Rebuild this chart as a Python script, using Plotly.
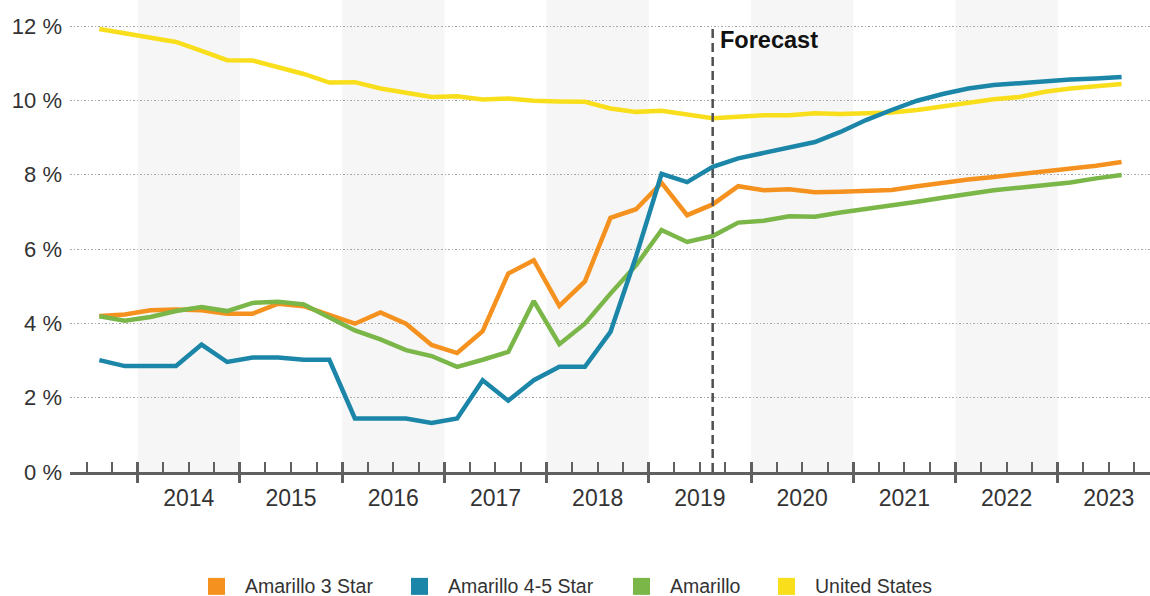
import plotly.graph_objects as go

# ---------------- data ----------------
START_YEAR, START_Q, N_QUARTERS = 2013, 3, 41
quarters = []
_y, _q = START_YEAR, START_Q
for _ in range(N_QUARTERS):
    quarters.append(f"{_y} Q{_q}")
    _q += 1
    if _q > 4:
        _q, _y = 1, _y + 1

amarillo_3_star = [4.20, 4.24, 4.35, 4.37, 4.35, 4.26, 4.26, 4.53, 4.46, 4.22,
                   3.99, 4.29, 3.99, 3.42, 3.20, 3.79, 5.34, 5.70, 4.47, 5.13,
                   6.84, 7.07, 7.78, 6.91, 7.20, 7.69, 7.58, 7.61, 7.53, 7.54,
                   7.55, 7.59, 7.69, 7.79, 7.87, 7.94, 8.01, 8.08, 8.15, 8.24, 8.34]
amarillo_45_star = [3.01, 2.85, 2.85, 2.85, 3.43, 2.96, 3.08, 3.08, 3.02, 3.02,
                    1.44, 1.44, 1.44, 1.32, 1.44, 2.47, 1.92, 2.47, 2.83, 2.83,
                    3.77, 5.80, 8.02, 7.80, 8.21, 8.44, 8.59, 8.75, 8.88, 9.15,
                    9.47, 9.74, 9.99, 10.17, 10.32, 10.41, 10.47, 10.52, 10.56, 10.59, 10.63]
amarillo = [4.19, 4.07, 4.17, 4.33, 4.44, 4.33, 4.55, 4.58, 4.51, 4.17,
            3.81, 3.57, 3.28, 3.12, 2.83, 3.02, 3.23, 4.60, 3.44, 3.99,
            4.80, 5.56, 6.51, 6.19, 6.35, 6.71, 6.76, 6.88, 6.87, 6.98,
            7.07, 7.16, 7.27, 7.38, 7.49, 7.58, 7.65, 7.71, 7.79, 7.90, 7.99]
united_states = [11.92, 11.80, 11.69, 11.57, 11.33, 11.08, 11.07, 10.90, 10.71, 10.48,
                 10.49, 10.32, 10.20, 10.09, 10.11, 10.02, 10.05, 9.99, 9.97, 9.96,
                 9.78, 9.69, 9.72, 9.63, 9.52, 9.56, 9.60, 9.60, 9.65, 9.63,
                 9.65, 9.67, 9.74, 9.84, 9.96, 10.03, 10.09, 10.23, 10.32, 10.38, 10.44]

series_names = ["Amarillo 3 Star", "Amarillo 4-5 Star", "Amarillo", "United States"]
series_colors = ["#F5921F", "#1B86A8", "#7AB648", "#F9DE1C"]

year_labels = [2014, 2015, 2016, 2017, 2018, 2019, 2020, 2021, 2022, 2023]
shaded_years = [2014, 2016, 2018, 2020, 2022]
y_ticks = [0, 2, 4, 6, 8, 10, 12]
forecast_start = "2019 Q3"
forecast_label = "Forecast"

# ---------------- layout constants ----------------
W, H = 1150, 596
M_L, M_R, M_T, M_B = 70, 0, 0, 124.3
PLOT_W = W - M_L - M_R
PLOT_H = H - M_T - M_B

def q_to_x(label):
    yr, q = label.split(" Q")
    return int(yr) + (int(q) - 0.5) / 4

def px_to_paper(px, py):
    return (px - M_L) / PLOT_W, (H - M_B - py) / PLOT_H

xs = [q_to_x(q) for q in quarters]
X_RANGE = [2013.338, 2023.903]
Y_RANGE = [0, 12.7]

FONT = "Liberation Sans, Arial, sans-serif"
AXIS_COLOR = "#606060"
TEXT_COLOR = "#333333"

fig = go.Figure()

values = {"Amarillo 3 Star": amarillo_3_star, "Amarillo 4-5 Star": amarillo_45_star,
          "Amarillo": amarillo, "United States": united_states}
col = dict(zip(series_names, series_colors))

# draw order for lines
for name in ["United States", "Amarillo 3 Star", "Amarillo", "Amarillo 4-5 Star"]:
    fig.add_trace(go.Scatter(x=xs, y=values[name], mode="lines", name=name,
                             line=dict(color=col[name], width=4.5),
                             showlegend=False, hoverinfo="x+y"))

# dummy traces so overlay axes render
for ax in ["x2", "x3", "x4"]:
    fig.add_trace(go.Scatter(x=[None], y=[None], xaxis=ax, yaxis="y",
                             showlegend=False, hoverinfo="skip"))

# year bands
shapes = []
for yr in shaded_years:
    shapes.append(dict(type="rect", xref="x", yref="paper", x0=yr, x1=yr + 1,
                       y0=0, y1=1, fillcolor="#F6F6F6", line=dict(width=0),
                       layer="below"))
fx = q_to_x(forecast_start)
shapes.append(dict(type="line", xref="x", yref="y", x0=fx, x1=fx, y0=0, y1=12,
                   line=dict(color="#505050", width=2.5, dash="9px,5px"), layer="above"))

annotations = [dict(x=fx, y=11.62, xref="x", yref="y", text=f"<b>{forecast_label}</b>",
                    showarrow=False, xanchor="left", yanchor="middle", xshift=5,
                    font=dict(size=23.5, color="#111111", family=FONT))]

# legend (key squares + labels) laid out below the chart
legend_square_left = [208, 411, 633, 778]
LEG_CY, SQ = 586, 17
for name, sx in zip(series_names, legend_square_left):
    x0, y0 = px_to_paper(sx, LEG_CY + SQ / 2)
    x1, y1 = px_to_paper(sx + SQ, LEG_CY - SQ / 2)
    shapes.append(dict(type="rect", xref="paper", yref="paper", x0=x0, x1=x1,
                       y0=y0, y1=y1, fillcolor=col[name], line=dict(width=0)))
    tx, ty = px_to_paper(sx + 35, LEG_CY)
    annotations.append(dict(x=tx, y=ty, xref="paper", yref="paper", text=name,
                            showarrow=False, xanchor="left", yanchor="middle",
                            font=dict(size=19.5, color=TEXT_COLOR, family=FONT)))

quarter_bounds = []
for yr in range(2013, 2024):
    for k in (1, 2, 3):
        v = yr + k / 4
        if X_RANGE[0] < v < X_RANGE[1]:
            quarter_bounds.append(v)

common_overlay = dict(overlaying="x", anchor="y", range=X_RANGE, showgrid=False,
                      zeroline=False, showline=False, showticklabels=False,
                      fixedrange=True)

fig.update_layout(
    width=W, height=H,
    margin=dict(l=M_L, r=M_R, t=M_T, b=M_B, autoexpand=False),
    paper_bgcolor="white", plot_bgcolor="white",
    font=dict(family=FONT, color=TEXT_COLOR),
    shapes=shapes,
    annotations=annotations,
    showlegend=False,
    xaxis=dict(range=X_RANGE, tickmode="array",
               tickvals=[y + 0.5 for y in year_labels],
               ticktext=[str(y) for y in year_labels],
               ticks="", showgrid=False, zeroline=False,
               showline=True, linecolor=AXIS_COLOR, linewidth=3,
               tickfont=dict(size=23, color=TEXT_COLOR, family=FONT),
               ticklabelstandoff=3, automargin=False),
    xaxis2=dict(tickmode="array", tickvals=quarter_bounds, ticks="inside",
                ticklen=10, tickwidth=1.5, tickcolor=AXIS_COLOR, **common_overlay),
    xaxis3=dict(tickmode="array", tickvals=year_labels, ticks="inside",
                ticklen=10, tickwidth=3, tickcolor=AXIS_COLOR, **common_overlay),
    xaxis4=dict(tickmode="array", tickvals=year_labels, ticks="outside",
                ticklen=10, tickwidth=3, tickcolor=AXIS_COLOR, **common_overlay),
    yaxis=dict(range=Y_RANGE, tickmode="array", tickvals=y_ticks,
               ticktext=[f"{v} %" for v in y_ticks], ticks="",
               showgrid=True, gridcolor="#A8A8A8", gridwidth=1, griddash="1.5px,2px",
               zeroline=False, showline=False,
               tickfont=dict(size=22, color=TEXT_COLOR, family=FONT),
               ticklabelstandoff=7, automargin=False),
)

fig.write_html("out.html", config={"displayModeBar": False})
